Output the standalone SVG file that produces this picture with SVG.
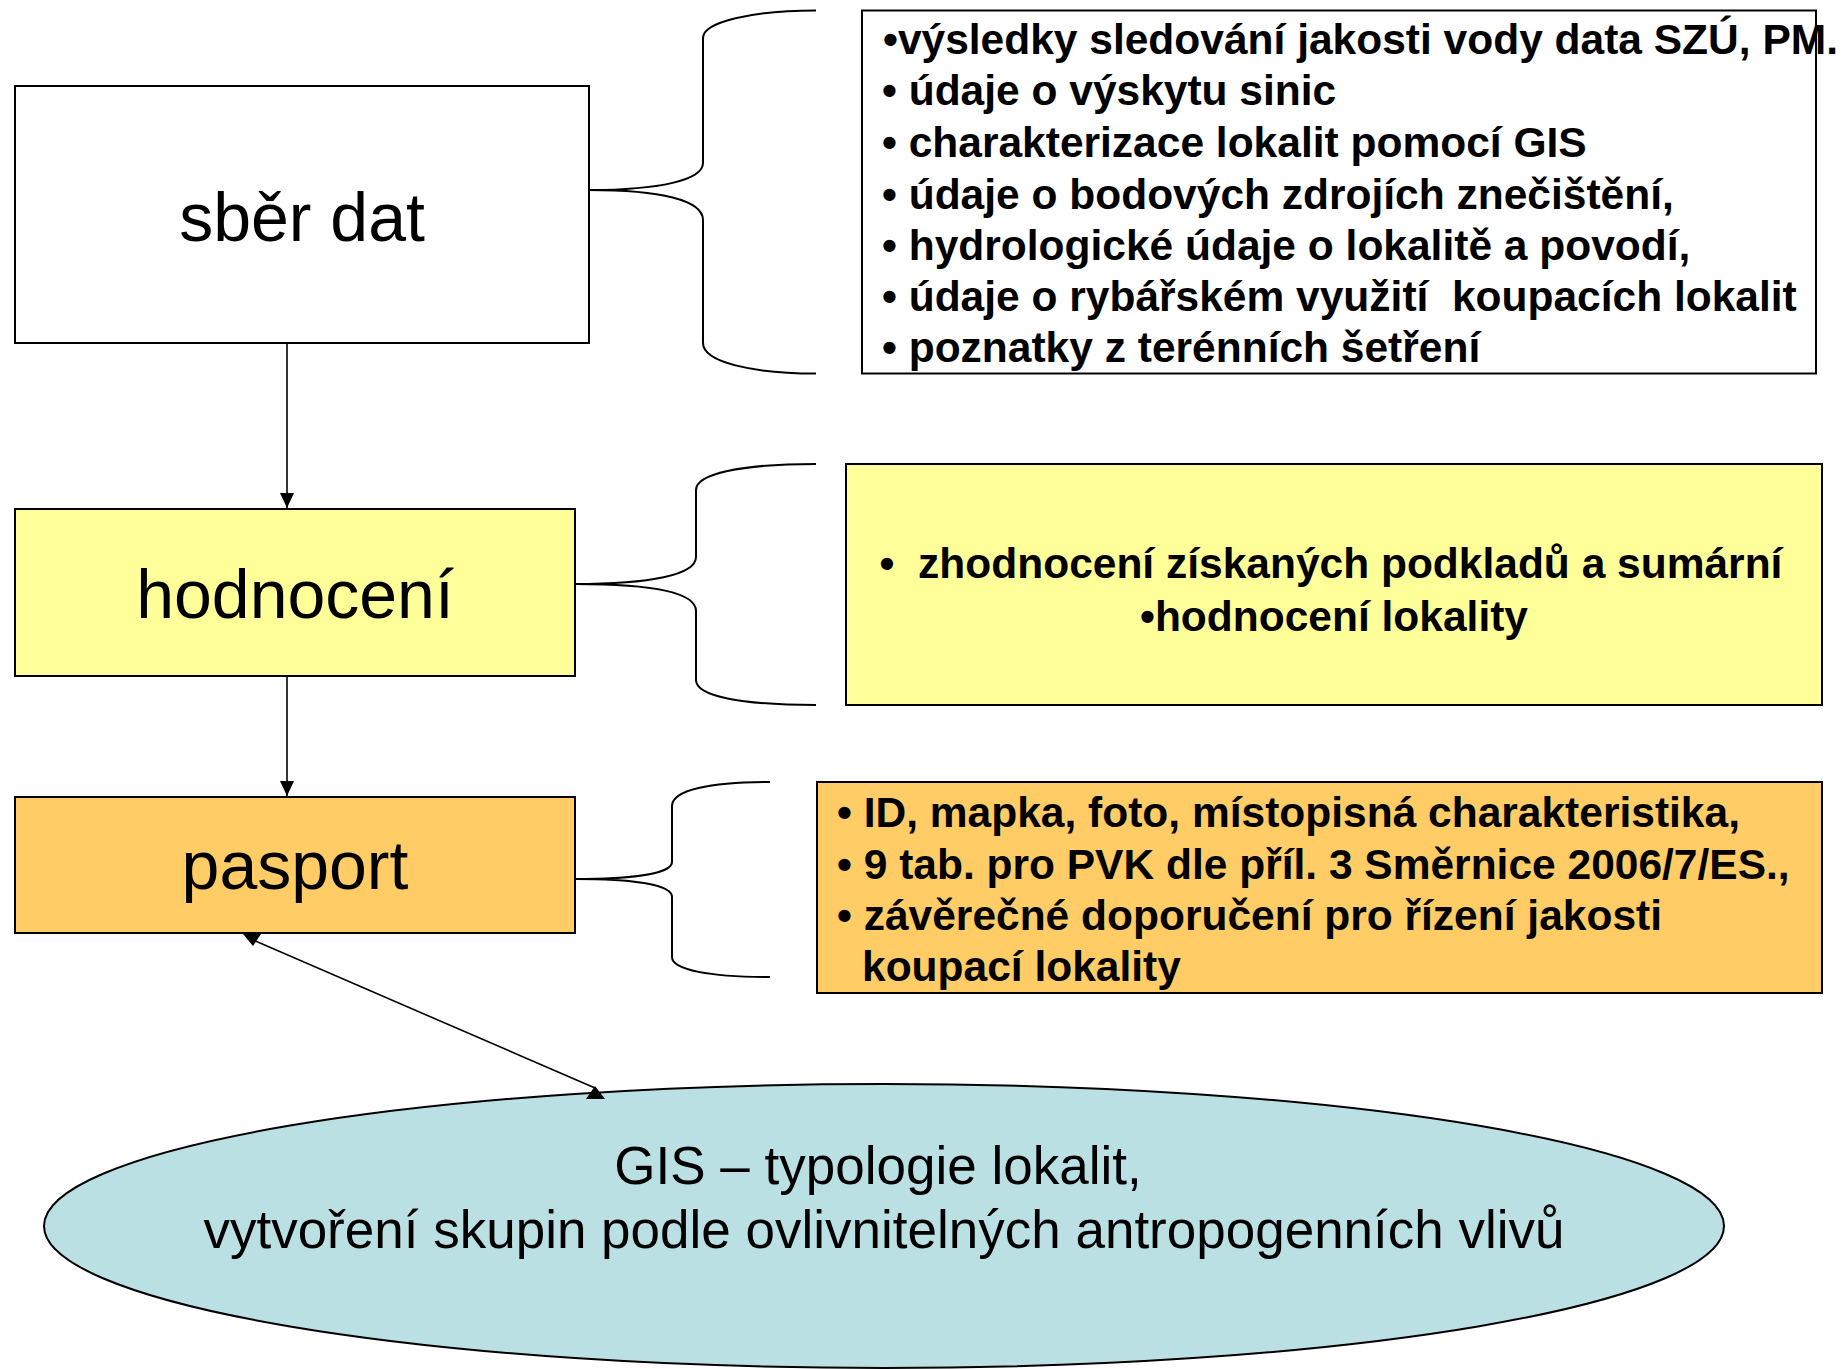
<svg xmlns="http://www.w3.org/2000/svg" width="1843" height="1369" viewBox="0 0 1843 1369">
<style>
.box{stroke:#000;stroke-width:2}
.brace{fill:none;stroke:#000;stroke-width:2}
.conn{stroke:#000;stroke-width:1.6;fill:none}
.big{font-family:"Liberation Sans",Arial,sans-serif;font-size:68px;fill:#000}
.b{font-family:"Liberation Sans",Arial,sans-serif;font-size:42.5px;font-weight:bold;fill:#000}
.gis{font-family:"Liberation Sans",Arial,sans-serif;font-size:53px;fill:#000}
</style>
<defs>
<marker id="ah" markerWidth="16" markerHeight="16" refX="15" refY="7" orient="auto" markerUnits="userSpaceOnUse">
<path d="M0,0 L15,7 L0,14 Z" fill="#000"/>
</marker>
</defs>
<rect width="1843" height="1369" fill="#fff"/>

<g id="node-sber-dat">
<rect class="box" x="15" y="86" width="574" height="257" fill="#fff"/>
<text class="big" x="302" y="241" text-anchor="middle">sběr dat</text>
</g>

<g id="brace-1">
<path class="brace" d="M816,10.5 C752,10.5 703,22 703,38 L703,163 C703,180 660,190 589,190 C660,190 703,200 703,220 L703,343 C703,362 752,373.5 816,373.5"/>
</g>

<g id="list-sber-dat">
<rect class="box" x="862" y="10.5" width="954" height="363" fill="#fff"/>
<text class="b" xml:space="preserve" x="883" y="54">•výsledky sledování jakosti vody data SZÚ, PM.</text>
<text class="b" xml:space="preserve" x="882" y="105">• údaje o výskytu sinic</text>
<text class="b" xml:space="preserve" x="882" y="157">• charakterizace lokalit pomocí GIS</text>
<text class="b" xml:space="preserve" x="882" y="208.5">• údaje o bodových zdrojích znečištění,</text>
<text class="b" xml:space="preserve" x="882" y="260">• hydrologické údaje o lokalitě a povodí,</text>
<text class="b" xml:space="preserve" x="882" y="311">• údaje o rybářském využití  koupacích lokalit</text>
<text class="b" xml:space="preserve" x="882" y="362">• poznatky z terénních šetření</text>
</g>

<g id="node-hodnoceni">
<rect class="box" x="15" y="509" width="560" height="167" fill="#FFFF99"/>
<text class="big" x="295" y="618" text-anchor="middle">hodnocení</text>
</g>

<g id="brace-2">
<path class="brace" d="M816,464 C740,464 696,474 696,490 L696,557 C696,575 650,584 575,584 C650,584 696,592 696,611 L696,680 C696,696 740,705 816,705"/>
</g>

<g id="list-hodnoceni">
<rect class="box" x="846" y="464" width="976" height="241" fill="#FFFF99"/>
<text class="b" xml:space="preserve" x="1331" y="578" text-anchor="middle">•  zhodnocení získaných podkladů a sumární</text>
<text class="b" xml:space="preserve" x="1334" y="630.5" text-anchor="middle">•hodnocení lokality</text>
</g>

<g id="node-pasport">
<rect class="box" x="15" y="797" width="560" height="136" fill="#FFCC66"/>
<text class="big" x="295" y="889" text-anchor="middle">pasport</text>
</g>

<g id="brace-3">
<path class="brace" d="M770,782 C710,782 672,790 672,806 L672,862 C672,874 630,879 575,879 C630,879 672,884 672,897 L672,957 C672,970 710,977 770,977"/>
</g>

<g id="list-pasport">
<rect class="box" x="817" y="782" width="1005" height="211" fill="#FFCC66"/>
<text class="b" xml:space="preserve" x="837" y="827">• ID, mapka, foto, místopisná charakteristika,</text>
<text class="b" xml:space="preserve" x="837" y="879">• 9 tab. pro PVK dle příl. 3 Směrnice 2006/7/ES.,</text>
<text class="b" xml:space="preserve" x="837" y="930">• závěrečné doporučení pro řízení jakosti</text>
<text class="b" xml:space="preserve" x="862" y="981">koupací lokality</text>
</g>

<g id="node-gis">
<ellipse class="box" cx="884" cy="1226" rx="840" ry="142" fill="#BBE0E3"/>
<text class="gis" xml:space="preserve" x="878" y="1184" text-anchor="middle">GIS – typologie lokalit,</text>
<text class="gis" xml:space="preserve" x="884" y="1248" text-anchor="middle">vytvoření skupin podle ovlivnitelných antropogenních vlivů</text>
</g>

<g id="connectors">
<line class="conn" x1="287" y1="343" x2="287" y2="508" marker-end="url(#ah)"/>
<line class="conn" x1="287" y1="676" x2="287" y2="796" marker-end="url(#ah)"/>
<line class="conn" x1="253" y1="940" x2="595" y2="1088"/>
<polygon points="243,934 261,934 253,946" fill="#000"/>
<polygon points="595,1086 586,1099 605,1099" fill="#000"/>
</g>
</svg>
